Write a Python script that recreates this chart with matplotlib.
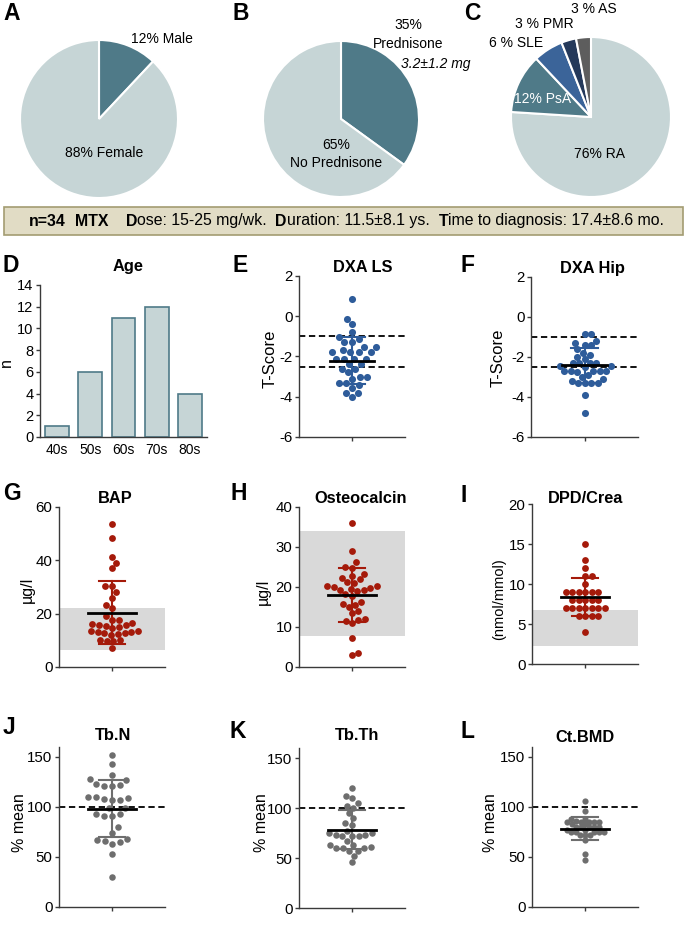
import matplotlib
matplotlib.use("Agg")
import matplotlib.pyplot as plt
from matplotlib.patches import Rectangle
import numpy as np

plt.rcParams['font.family'] = ['Liberation Sans', 'DejaVu Sans']
plt.rcParams['axes.unicode_minus'] = False

# ---- data ----
sex_labels = ['12% Male', '88% Female']
sex_pct = [12, 88]
pred_pct = [35, 65]
dx_labels = ['RA', 'PsA', 'SLE', 'PMR', 'AS']
dx_pct = [76, 12, 6, 3, 3]

age_groups = ['40s', '50s', '60s', '70s', '80s']
age_n = [1, 6, 11, 12, 4]

dxa_ls = [0.87, -0.12, -0.39, -0.80, -1.02, -1.12, -1.30, -1.30, -1.52, -1.52,
          -1.68, -1.80, -1.80, -1.80, -1.80, -2.10, -2.10, -2.10, -2.10, -2.37,
          -2.37, -2.60, -2.60, -2.78, -3.01, -3.01, -3.10, -3.31, -3.31, -3.43,
          -3.55, -3.81, -3.81, -4.01]
dxa_ls_mean, dxa_ls_sd = -2.2, 1.17

dxa_hip = [-0.85, -0.85, -1.2, -1.3, -1.4, -1.4, -1.6, -1.78, -1.9, -2.0,
           -2.1, -2.3, -2.3, -2.3, -2.3, -2.45, -2.45, -2.5, -2.68, -2.68,
           -2.68, -2.68, -2.68, -2.75, -2.9, -3.0, -3.1, -3.2, -3.3, -3.3,
           -3.3, -3.3, -3.9, -4.8]
dxa_hip_mean, dxa_hip_sd = -2.42, 0.88

bap = [53.5, 48.3, 41.3, 39.0, 37.0, 30.5, 30.5, 28.0, 26.0, 23.3, 22.0, 19.0,
       17.6, 17.6, 16.5, 16.0, 15.6, 15.6, 15.3, 15.0, 14.5, 13.5, 13.5, 13.0,
       12.6, 12.6, 12.4, 13.0, 12.0, 10.0, 10.0, 9.6, 9.6, 7.1]
bap_mean, bap_sd = 20.4, 11.7
bap_ref = (6.3, 22.0)

osteocalcin = [35.9, 28.9, 26.2, 25.0, 24.8, 23.2, 22.8, 22.2, 21.9, 21.2, 21.0,
               20.3, 20.2, 20.0, 19.7, 19.3, 19.3, 18.9, 18.2, 17.8, 15.8, 16.2,
               15.5, 14.9, 14.0, 13.4, 11.8, 11.0, 11.5, 11.9, 7.2, 3.5, 2.9, 19.5]
oc_mean, oc_sd = 18.0, 6.8
oc_ref = (7.8, 34.0)

dpd_crea = [15, 13, 12, 11, 11, 10, 9, 9, 9, 9, 9, 9, 8, 8, 8, 8, 8,
            7, 7, 7, 7, 7, 7, 7, 6, 6, 6, 6, 4]
dpd_mean, dpd_sd = 8.4, 2.4
dpd_ref = (2.3, 6.8)

tb_n = [152.3, 143.3, 131.7, 126.7, 127.7, 122, 121, 121, 123, 110.3, 110,
        108.7, 107.3, 107.3, 108, 98.7, 99.3, 93.3, 91.3, 91.3, 93.3, 80, 74.3,
        67.7, 67.3, 66, 63, 65, 53, 30]
tb_n_mean, tb_n_sd = 98.5, 28.5

tb_th = [120, 110, 112.3, 105, 101.7, 100, 95, 90, 85, 83.3, 76.7, 75, 73.3,
         71.7, 71.7, 71.7, 73.3, 75, 66.7, 63, 63, 60, 60, 60, 61, 57.3, 57.3,
         52.3, 45.7]
tb_th_mean, tb_th_sd = 78.3, 19.5

ct_bmd = [106.3, 95.7, 88.3, 88.3, 86, 85, 85, 85, 85, 85, 82.7, 82.7, 80, 80,
          80, 80, 80, 77.3, 77.3, 75, 75, 75, 75, 75, 71.7, 71.7, 71.7, 66.7,
          53.3, 46.7]
ct_bmd_mean, ct_bmd_sd = 78.5, 11.5

# ---- colours ----
TEAL = '#4f7a88'
LIGHT = '#c6d5d6'
BLUE = '#2e5c9a'
RED = '#a51a0a'
GREY = '#6e6e6e'
BAND = '#d9d9d9'
SPINE = '#3a3a3a'

TITLE_FS = 11.8
LETTER_FS = 16.5

W, H = 685, 943
fig = plt.figure(figsize=(W / 100, H / 100), dpi=100)


def px_axes(x0, y0, x1, y1):
    return fig.add_axes([x0 / W, 1 - y1 / H, (x1 - x0) / W, (y1 - y0) / H])


def ftext(x, y, s, **kw):
    return fig.text(x / W, 1 - y / H, s, **kw)


def letter(x, y, s):
    ftext(x, y, s, fontsize=LETTER_FS, fontweight='bold', ha='center', va='center')


def title(x, y, s):
    ftext(x, y, s, fontsize=TITLE_FS, fontweight='bold', ha='center', va='center')


def ylab(x, y, s, fs=11.5):
    ftext(x, y, s, fontsize=fs, rotation=90, ha='center', va='center')


# ---- pies ----
wp = dict(edgecolor='white', linewidth=1.5)

ax = px_axes(20, 40, 178, 198)
ax.pie(sex_pct, colors=[TEAL, LIGHT], startangle=90, counterclock=False, wedgeprops=wp)
ax.set_xlim(-1, 1); ax.set_ylim(-1, 1)
ax.text(0.8, 1.01, sex_labels[0], ha='center', va='center', fontsize=10)
ax.text(0.06, -0.43, sex_labels[1], ha='center', va='center', fontsize=10)

ax = px_axes(263, 41, 419, 197)
ax.pie(pred_pct, colors=[TEAL, LIGHT], startangle=90, counterclock=False, wedgeprops=wp)
ax.set_xlim(-1, 1); ax.set_ylim(-1, 1)
ax.text(0.86, 1.21, f'{pred_pct[0]}%', ha='center', va='center', fontsize=10)
ax.text(0.86, 0.96, 'Prednisone', ha='center', va='center', fontsize=10)
ax.text(1.21, 0.71, '3.2±1.2 mg', ha='center', va='center', fontsize=10, style='italic')
ax.text(-0.06, -0.33, f'{pred_pct[1]}%', ha='center', va='center', fontsize=10)
ax.text(-0.06, -0.56, 'No Prednisone', ha='center', va='center', fontsize=10)

ax = px_axes(511, 37, 671, 197)
ax.pie(dx_pct, colors=[LIGHT, TEAL, '#3b6499', '#24395a', '#5d5d5d'],
       startangle=90, counterclock=False, wedgeprops=wp)
ax.set_xlim(-1, 1); ax.set_ylim(-1, 1)
ax.text(0.03, 1.355, f'{dx_pct[4]} % {dx_labels[4]}', ha='center', va='center', fontsize=10)
ax.text(-0.58, 1.16, f'{dx_pct[3]} % {dx_labels[3]}', ha='center', va='center', fontsize=10)
ax.text(-0.94, 0.93, f'{dx_pct[2]} % {dx_labels[2]}', ha='center', va='center', fontsize=10)
ax.text(-0.6, 0.23, f'{dx_pct[1]}% {dx_labels[1]}', ha='center', va='center', fontsize=10, color='white')
ax.text(0.11, -0.46, f'{dx_pct[0]}% {dx_labels[0]}', ha='center', va='center', fontsize=10)

letter(12, 14, 'A')
letter(241, 14, 'B')
letter(472, 14, 'C')

# ---- info box ----
fig.add_artist(Rectangle((4 / W, 1 - 235 / H), 679 / W, 28 / H, transform=fig.transFigure,
                         facecolor='#e1dcc5', edgecolor='#a39c72', linewidth=1.2))
pieces = [('n=34', 'bold', 0), ('MTX', 'bold', 2), ('D', 'bold', 4), ('ose: 15-25 mg/wk.', 'normal', 0),
          ('D', 'bold', 2), ('uration: 11.5±8.1 ys.', 'normal', 0), ('T', 'bold', 2),
          ('ime to diagnosis: 17.4±8.6 mo.', 'normal', 0)]
renderer = fig.canvas.get_renderer()
fs_box = 11.4
sp = fs_box * 100 / 72 * 0.278
x = 29
for s, w, nsp in pieces:
    x += nsp * sp
    t = ftext(x, 225.5, s, fontsize=fs_box, fontweight=w, ha='left', va='baseline')
    x += t.get_window_extent(renderer).width


def style(ax, fs=10.8):
    for s in ('top', 'right'):
        ax.spines[s].set_visible(False)
    for s in ('left', 'bottom'):
        ax.spines[s].set_color(SPINE)
        ax.spines[s].set_linewidth(1)
    ax.tick_params(length=3.2, width=1, color=SPINE, labelsize=fs, pad=1.5)


# ---- D: age histogram ----
ax = px_axes(40, 285, 207, 437)
ax.bar(range(len(age_n)), age_n, width=0.72, color=LIGHT, edgecolor=TEAL, linewidth=1.2)
ax.set_xlim(-0.51, 4.51); ax.set_ylim(0, 14)
ax.set_yticks(range(0, 15, 2))
ax.set_xticks(range(len(age_groups)))
ax.set_xticklabels(age_groups)
style(ax, 10.5)
ax.tick_params(axis='x', length=0, pad=4, labelsize=10)
title(128, 266, 'Age')
ylab(6, 363, 'n')
letter(11, 266, 'D')


def swarm_x(ax, vals, d):
    # simple beeswarm in pixel space: each dot takes the free spot closest to the centre
    vals = np.asarray(vals, float)
    ypx = ax.transData.transform(np.column_stack([np.zeros(len(vals)), vals]))[:, 1]
    xunit = ax.transData.transform([[1, 0]])[0, 0] - ax.transData.transform([[0, 0]])[0, 0]
    order = np.argsort(ypx, kind='stable')
    placed = []
    xs = np.zeros(len(vals))
    side = 1
    for i in order:
        y = ypx[i]
        near = [(px, py) for px, py in placed if abs(py - y) < d]
        cands = [0.0]
        for px, py in near:
            dx = np.sqrt(d * d - (py - y) ** 2)
            cands += [px + dx, px - dx]
        cands.sort(key=lambda c: (round(abs(c), 3), -side * c))
        for c in cands:
            if all((c - px) ** 2 + (y - py) ** 2 >= d * d - 1e-6 for px, py in near):
                break
        if c != 0:
            side = -side
        placed.append((c, y))
        xs[i] = c / xunit
    return xs


def dot_panel(box, vals, mean, sd, color, ylim, yticks, spacing, band=None, dashes=(),
              mean_hw=0.46, cap_hw=0.25, size=22):
    ax = px_axes(*box)
    ax.set_xlim(-1, 1); ax.set_ylim(*ylim)
    ax.set_yticks(yticks)
    ax.set_xticks([0]); ax.set_xticklabels([])
    style(ax)
    if band:
        ax.axhspan(band[0], band[1], color=BAND, lw=0, zorder=0)
    for d in dashes:
        ax.axhline(d, color='black', ls=(0, (3.5, 2)), lw=1.3, zorder=1)
    xs = swarm_x(ax, vals, spacing)
    ax.scatter(xs, vals, s=size, color=color, linewidths=0, zorder=3, clip_on=False)
    ax.plot([0, 0], [mean - sd, mean + sd], color=color, lw=1.5, zorder=4)
    for yy in (mean - sd, mean + sd):
        ax.plot([-cap_hw, cap_hw], [yy, yy], color=color, lw=1.5, zorder=4)
    ax.plot([-mean_hw, mean_hw], [mean, mean], color='black', lw=2, zorder=5)
    return ax


# ---- E / F ----
dot_panel((299, 276, 405, 437), dxa_ls, dxa_ls_mean, dxa_ls_sd, BLUE, (-6, 2), range(-6, 3, 2),
          7.6, dashes=(-1, -2.5), mean_hw=0.42, size=26)
title(363, 268, 'DXA LS')
ylab(270, 359, 'T-Score', 12)
letter(240, 266, 'E')

dot_panel((531, 277, 638, 437), dxa_hip, dxa_hip_mean, dxa_hip_sd, BLUE, (-6, 2), range(-6, 3, 2),
          6.6, dashes=(-1, -2.5), mean_hw=0.42, size=26)
title(592, 268, 'DXA Hip')
ylab(498, 358, 'T-Score', 12)
letter(468, 266, 'F')

# ---- G / H / I ----
dot_panel((59, 507, 165, 667), bap, bap_mean, bap_sd, RED, (0, 60), range(0, 61, 20),
          6.8, band=bap_ref, size=24)
title(115, 499, 'BAP')
ylab(27, 590, 'µg/l')
letter(12, 494, 'G')

dot_panel((299, 507, 405, 667), osteocalcin, oc_mean, oc_sd, RED, (0, 40), range(0, 41, 10),
          6.8, band=oc_ref, size=24)
title(361, 499, 'Osteocalcin')
ylab(263, 592, 'µg/l')
letter(239, 494, 'H')

dot_panel((532, 504, 638, 664), dpd_crea, dpd_mean, dpd_sd, RED, (0, 20), range(0, 21, 5),
          6.5, band=dpd_ref, size=24)
title(586, 499, 'DPD/Crea')
ylab(499, 599, '(nmol/mmol)', 10.5)
letter(464, 495, 'I')

# ---- J / K / L ----
dot_panel((59, 747, 165, 907), tb_n, tb_n_mean, tb_n_sd, GREY, (0, 160), range(0, 151, 50),
          8.0, dashes=(100,))
title(113, 736, 'Tb.N')
ylab(20, 823, '% mean')
letter(9, 728, 'J')

dot_panel((299, 748, 405, 908), tb_th, tb_th_mean, tb_th_sd, GREY, (0, 160), range(0, 151, 50),
          6.8, dashes=(100,))
title(357, 736, 'Tb.Th')
ylab(262, 823, '% mean')
letter(238, 732, 'K')

dot_panel((532, 747, 638, 907), ct_bmd, ct_bmd_mean, ct_bmd_sd, GREY, (0, 160), range(0, 151, 50),
          5.0, dashes=(100,), size=20)
title(585, 737, 'Ct.BMD')
ylab(491, 823, '% mean')
letter(467, 732, 'L')

fig.savefig('out.png', dpi=100)
